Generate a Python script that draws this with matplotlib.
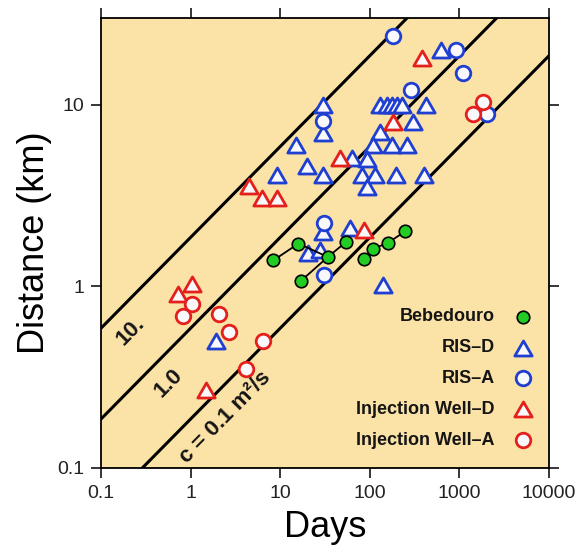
import numpy as np
import matplotlib.pyplot as plt
from matplotlib.path import Path

plt.rcParams['font.family'] = ['Liberation Sans', 'DejaVu Sans']

# data (days, km)
beb_days = [8.4, 16, 34, 54, 17, 86, 109, 158, 249]
beb_dist = [1.39, 1.72, 1.45, 1.75, 1.07, 1.41, 1.61, 1.73, 2.01]
beb_chains = [[0, 1, 2, 3], [4, 2], [5, 6, 7, 8]]

ris_d_days = [30, 30, 15, 9.3, 20, 30, 30, 618, 130, 155, 175, 200, 227, 424,
              306, 130, 109, 175, 262, 63, 92, 81, 114, 196, 405, 92, 60,
              20.6, 27.8, 142, 1.92]
ris_d_dist = [10.0, 7.0, 6.0, 4.1, 4.6, 4.1, 2.0, 20.1, 10, 10, 10, 10, 10, 10,
              8.0, 7.05, 6.0, 6.0, 6.0, 5.1, 5.0, 4.1, 4.1, 4.1, 4.1, 3.5, 2.1,
              1.53, 1.59, 1.02, 0.50]

ris_a_days = [183, 911, 1107, 288, 30, 31, 31, 2018]
ris_a_dist = [23.9, 20.0, 14.9, 12.1, 8.1, 2.23, 1.15, 8.83]

iw_d_days = [4.5, 6.3, 9.3, 380, 180, 47, 86, 1.03, 0.73, 1.5]
iw_d_dist = [3.56, 3.07, 3.07, 18.1, 8.0, 5.1, 2.03, 1.03, 0.91, 0.27]

iw_a_days = [1.03, 0.83, 2.07, 2.69, 6.4, 4.2, 1850, 1430]
iw_a_dist = [0.80, 0.69, 0.70, 0.56, 0.50, 0.35, 10.4, 8.83]

diffusivities = [0.1, 1.0, 10.0]
diff_labels = ['c = 0.1 m²/s', '1.0', '10.']
label_days = [2.42, 0.574, 0.214]

x_ticks = [0.1, 1, 10, 100, 1000, 10000]
x_ticklabels = ['0.1', '1', '10', '100', '1000', '10000']
y_ticks = [0.1, 1, 10]
y_ticklabels = ['0.1', '1', '10']

BLUE = '#1f3fd0'
RED = '#e3201b'
FILL = '#f9f9fd'
TRI = Path([(-1, -0.866), (1, -0.866), (0, 0.866), (-1, -0.866)], closed=True)


def front(c, days):
    # r = sqrt(4 c t), t in days -> km
    return np.sqrt(4 * c * np.asarray(days) * 86400.0) / 1000.0


fig = plt.figure(figsize=(5.82, 5.52), dpi=100)
ax = fig.add_axes([0.1735, 0.1522, 0.7698, 0.8152])
ax.set_facecolor('#fbe2a6')
ax.set_xscale('log')
ax.set_yscale('log')
ax.set_xlim(0.1, 10000)
ax.set_ylim(0.1, 30)

t = np.logspace(-1, 4, 200)
for c in diffusivities:
    ax.plot(t, front(c, t), color='black', lw=2.2, zorder=2)

# angle of the lines on screen
p0 = ax.transData.transform((1, front(1, 1)))
p1 = ax.transData.transform((100, front(1, 100)))
ang = np.degrees(np.arctan2(p1[1] - p0[1], p1[0] - p0[0]))
for c, lab, d in zip(diffusivities, diff_labels, label_days):
    ax.text(d, front(c, d) * 0.66, lab, rotation=ang, rotation_mode='anchor',
            ha='center', va='center', fontsize=16, fontweight='bold',
            color='#151515', zorder=3)

ax.plot(ris_d_days, ris_d_dist, ls='none', marker=TRI, ms=12.5, mfc=FILL,
        mec=BLUE, mew=2.0, zorder=4)
ax.plot(ris_a_days, ris_a_dist, ls='none', marker='o', ms=10.5, mfc=FILL,
        mec=BLUE, mew=2.0, zorder=5)
ax.plot(iw_d_days, iw_d_dist, ls='none', marker=TRI, ms=12.5, mfc=FILL,
        mec=RED, mew=2.0, zorder=6)
ax.plot(iw_a_days, iw_a_dist, ls='none', marker='o', ms=10.5, mfc=FILL,
        mec=RED, mew=2.0, zorder=7)
for chain in beb_chains:
    ax.plot([beb_days[i] for i in chain], [beb_dist[i] for i in chain],
            color='black', lw=1.3, zorder=8)
ax.plot(beb_days, beb_dist, ls='none', marker='o', ms=9, mfc='#22cc22',
        mec='black', mew=1.2, zorder=9)

# legend, text right aligned with keys to the right
leg_labels = ['Bebedouro', 'RIS–D', 'RIS–A', 'Injection Well–D', 'Injection Well–A']
leg_styles = [('o', 9, '#22cc22', 'black', 1.2), (TRI, 12.5, FILL, BLUE, 2.0),
              ('o', 10.5, FILL, BLUE, 2.0), (TRI, 12.5, FILL, RED, 2.0),
              ('o', 10.5, FILL, RED, 2.0)]
for yy, lab, st in zip(np.linspace(0.336, 0.062, 5), leg_labels, leg_styles):
    ax.text(0.879, yy, lab, transform=ax.transAxes, ha='right', va='center',
            fontsize=13, fontweight='bold', color='#151515', zorder=10)
    ax.plot([0.941], [yy], transform=ax.transAxes, ls='none', marker=st[0],
            ms=st[1], mfc=st[2], mec=st[3], mew=st[4], zorder=10)

ax.set_xticks(x_ticks)
ax.set_xticklabels(x_ticklabels)
ax.set_yticks(y_ticks)
ax.set_yticklabels(y_ticklabels)
ax.minorticks_off()
ax.tick_params(which='both', direction='out', length=7, width=1.1, top=True,
               right=True, labelsize=14, pad=5, labelcolor='#222222')
for s in ax.spines.values():
    s.set_linewidth(1.3)

ax.set_xlabel('Days', fontsize=26, labelpad=6)
ax.set_ylabel('Distance (km)', fontsize=26, labelpad=4)

fig.savefig('out.png', dpi=100)
